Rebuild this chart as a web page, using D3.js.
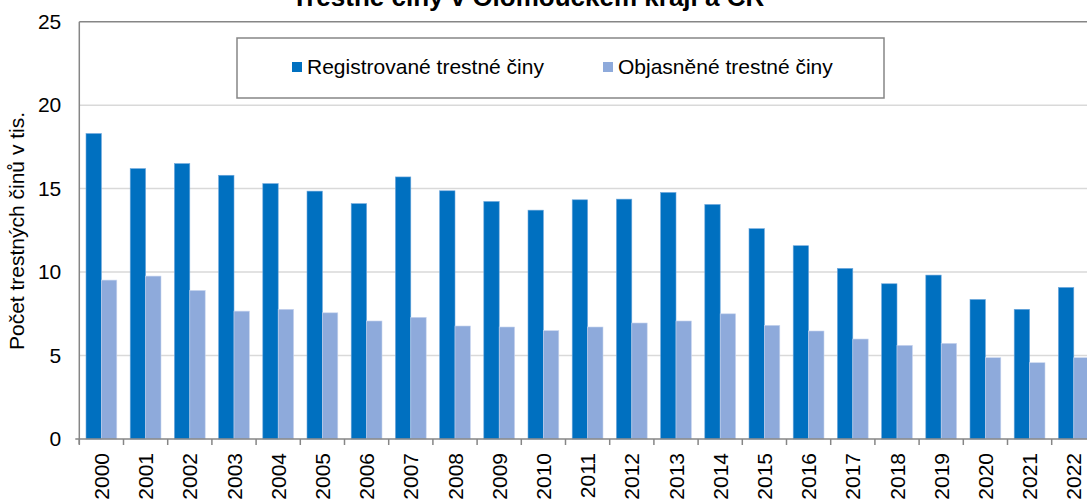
<!DOCTYPE html>
<html lang="cs">
<head>
<meta charset="utf-8">
<title>Trestné činy</title>
<script src="https://d3js.org/d3.v7.min.js"></script>
<style>
  body { margin: 0; background: #fff; }
  text { font-family: Arial, "Liberation Sans", sans-serif; fill: #000; }
</style>
</head>
<body>
<script>
// data (tis. trestných činů)
var years = ["2000","2001","2002","2003","2004","2005","2006","2007","2008","2009","2010",
             "2011","2012","2013","2014","2015","2016","2017","2018","2019","2020","2021","2022"];
var registrovane = [18.3, 16.2, 16.5, 15.8, 15.3, 14.85, 14.1, 15.7, 14.87, 14.23, 13.71,
                    14.33, 14.37, 14.77, 14.05, 12.6, 11.58, 10.22, 9.3, 9.82, 8.36, 7.77, 9.08];
var objasnene = [9.52, 9.76, 8.9, 7.66, 7.77, 7.56, 7.07, 7.29, 6.77, 6.71, 6.49,
                 6.71, 6.95, 7.07, 7.5, 6.81, 6.47, 5.99, 5.61, 5.73, 4.87, 4.57, 4.87];
var seriesNames = ["Registrované trestné činy", "Objasněné trestné činy"];
var colors = ["#0070C0", "#8EAADB"];
var yTicks = [0, 5, 10, 15, 20, 25];

var width = 1087, height = 500;
var plotLeft = 79.3, plotTop = 21.7, plotBottom = 439;
var step = 44.2;

var svg = d3.select("body").append("svg")
    .attr("width", width)
    .attr("height", height);

var x0 = d3.scaleBand()
    .domain(years)
    .range([plotLeft, plotLeft + step * years.length]);

var pad = 6.7;
var x1 = d3.scaleBand()
    .domain([0, 1])
    .range([pad, x0.bandwidth() - pad]);

var y = d3.scaleLinear()
    .domain([0, 25])
    .range([plotBottom, plotTop]);

// gridlines
svg.append("g").selectAll("line")
    .data(yTicks.slice(1, -1)).enter()
    .append("line")
    .attr("x1", plotLeft)
    .attr("x2", width)
    .attr("y1", function(d) { return y(d); })
    .attr("y2", function(d) { return y(d); })
    .style("stroke", "#D9D9D9")
    .style("stroke-width", 1.5);

// plot border top
svg.append("line")
    .attr("x1", plotLeft).attr("x2", width)
    .attr("y1", y(25)).attr("y2", y(25))
    .style("stroke", "#868686")
    .style("stroke-width", 1.5);

// bars
var rows = years.map(function(yr, i) { return {year: yr, vals: [registrovane[i], objasnene[i]]}; });

var groups = svg.append("g").selectAll("g")
    .data(rows).enter()
    .append("g")
    .attr("transform", function(d) { return "translate(" + x0(d.year) + ",0)"; });

groups.selectAll("rect")
    .data(function(d) { return d.vals.map(function(v, k) { return {k: k, v: v}; }); })
    .enter()
    .append("rect")
    .attr("x", function(d) { return x1(d.k); })
    .attr("width", x1.bandwidth())
    .attr("y", function(d) { return y(d.v); })
    .attr("height", function(d) { return plotBottom - y(d.v); })
    .style("fill", function(d) { return colors[d.k]; })
    .style("stroke", function(d) { return d.k === 0 ? "#6FA8DC" : "#C8D5EE"; })
    .style("stroke-width", 0.6);

// y axis
var yAxis = svg.append("g")
    .attr("transform", "translate(" + plotLeft + ",0)")
    .call(d3.axisLeft(y).tickValues(yTicks).tickSize(0).tickPadding(18));
yAxis.select(".domain").remove();
yAxis.selectAll("text")
    .style("font-size", "21px")
    .style("font-family", "Arial, 'Liberation Sans', sans-serif");

svg.append("line")
    .attr("x1", plotLeft).attr("x2", plotLeft)
    .attr("y1", plotTop).attr("y2", plotBottom + 5)
    .style("stroke", "#868686")
    .style("stroke-width", 1.5);

// x axis
svg.append("line")
    .attr("x1", plotLeft - 4).attr("x2", width)
    .attr("y1", plotBottom).attr("y2", plotBottom)
    .style("stroke", "#868686")
    .style("stroke-width", 1.5);

svg.append("g").selectAll("line")
    .data(years.concat(["end"])).enter()
    .append("line")
    .attr("x1", function(d, i) { return plotLeft + i * x0.step(); })
    .attr("x2", function(d, i) { return plotLeft + i * x0.step(); })
    .attr("y1", plotBottom)
    .attr("y2", plotBottom + 6)
    .style("stroke", "#868686")
    .style("stroke-width", 1.5);

svg.append("g").selectAll("text")
    .data(years).enter()
    .append("text")
    .attr("transform", function(d) {
        return "translate(" + (x0(d) + x0.bandwidth() / 2 + 7.5) + "," + (plotBottom + 14) + ")rotate(-90)";
    })
    .attr("text-anchor", "end")
    .style("font-size", "21px")
    .text(function(d) { return d; });

// y title
svg.append("text")
    .attr("transform", "translate(24,231)rotate(-90)")
    .attr("text-anchor", "middle")
    .style("font-size", "21px")
    .text("Počet trestných činů v tis.");

// title (cut at top)
svg.append("text")
    .attr("x", 528)
    .attr("y", 6)
    .attr("text-anchor", "middle")
    .style("font-size", "26px")
    .style("font-weight", "bold")
    .text("Trestné činy v Olomouckém kraji a ČR");

// legend
var legend = svg.append("g");
legend.append("rect")
    .attr("x", 237).attr("y", 38)
    .attr("width", 647).attr("height", 60)
    .style("fill", "#fff")
    .style("stroke", "#868686")
    .style("stroke-width", 1.5);

var legX = [292, 603];
var items = legend.selectAll("g.item")
    .data(seriesNames).enter()
    .append("g")
    .attr("class", "item")
    .attr("transform", function(d, i) { return "translate(" + legX[i] + ",62)"; });
items.append("rect")
    .attr("width", 10).attr("height", 10)
    .style("fill", function(d, i) { return colors[i]; });
items.append("text")
    .attr("x", 15)
    .attr("y", 12)
    .style("font-size", "21px")
    .text(function(d) { return d; });
</script>
</body>
</html>
